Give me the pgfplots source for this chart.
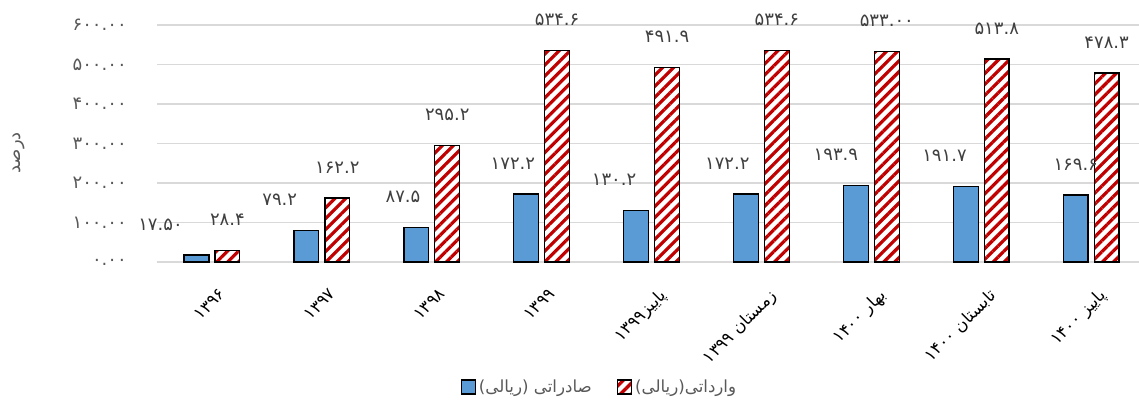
\documentclass[border=0pt]{standalone}
\usepackage{fontspec}
\usepackage{pgfplots}
\pgfplotsset{compat=1.18}
\usepackage{pgfplotstable}
\usetikzlibrary{patterns.meta}
\TeXXeTstate=1
\newfontfamily\pfont[Script=Arabic]{DejaVu Sans}
\definecolor{barblue}{HTML}{5B9BD5}
\definecolor{barred}{HTML}{C00000}
\definecolor{gridgray}{HTML}{D9D9D9}
\definecolor{txtgray}{HTML}{595959}
\definecolor{lblgray}{HTML}{404040}

\pgfplotstableread{
x exp imp expl impl dx
0 17.50 28.4 ۱۷.۵۰ ۲۸.۴ -27
1 79.2 162.2 ۷۹.۲ ۱۶۲.۲ -20
2 87.5 295.2 ۸۷.۵ ۲۹۵.۲ -10
3 172.2 534.6 ۱۷۲.۲ ۵۳۴.۶ -10
4 130.2 491.9 ۱۳۰.۲ ۴۹۱.۹ -16.5
5 172.2 534.6 ۱۷۲.۲ ۵۳۴.۶ -14
6 193.9 533.00 ۱۹۳.۹ ۵۳۳.۰۰ -15
7 191.7 513.8 ۱۹۱.۷ ۵۱۳.۸ -16
8 169.6 478.3 ۱۶۹.۶ ۴۷۸.۳ 0
}\datatable

\begin{document}
\begin{tikzpicture}
\useasboundingbox (-117.75pt,-113.25pt) rectangle (736.5pt,196.5pt);
\begin{axis}[
  at={(0,0)}, anchor=south west,
  scale only axis, width=736.5pt, height=177.75pt,
  xmin=-0.5, xmax=8.435, ymin=0, ymax=600,
  axis line style={draw=none},
  ymajorgrids, major grid style={gridgray, line width=0.9pt},
  major tick length=0pt,
  ytick={0,100,200,300,400,500,600},
  yticklabels={{۰.۰۰},{۱۰۰.۰۰},{۲۰۰.۰۰},{۳۰۰.۰۰},{۴۰۰.۰۰},{۵۰۰.۰۰},{۶۰۰.۰۰}},
  yticklabel style={font=\pfont\fontsize{13.5}{15}\selectfont, text=txtgray, inner sep=0pt, xshift=-22.5pt},
  xtick={0,1,2,3,4,5,6,7,8},
  xticklabels={
    {\beginR ۱۳۹۶\endR},
    {\beginR ۱۳۹۷\endR},
    {\beginR ۱۳۹۸\endR},
    {\beginR ۱۳۹۹\endR},
    {\beginR پاییز۱۳۹۹\endR},
    {\beginR زمستان ۱۳۹۹\endR},
    {\beginR بهار ۱۴۰۰\endR},
    {\beginR تابستان ۱۴۰۰\endR},
    {\beginR پاییز ۱۴۰۰\endR}},
  xticklabel style={font=\pfont\fontsize{12.5}{14}\selectfont, text=black, inner sep=0pt, xshift=5pt, yshift=-19pt, rotate=45, anchor=north east},
  ylabel={\beginR درصد\endR},
  ylabel style={font=\pfont\fontsize{13.5}{15}\selectfont, text=txtgray, at={(axis description cs:-0.1405,0.46)}, anchor=center},
  ybar, bar width=18.6pt,
  clip=false,
  legend style={at={(axis description cs:0.451,-0.527)}, anchor=center, legend columns=2, draw=none,
    font=\pfont\fontsize{12.5}{14}\selectfont, text=txtgray,
    /tikz/every even column/.append style={column sep=17pt}},
  legend image code/.code={\draw[#1] (0pt,-5.25pt) rectangle (10.5pt,5.25pt);},
  nodes near coords={\pgfplotspointmeta},
  point meta=explicit symbolic,
  every node near coord/.append style={font=\pfont\fontsize{13.5}{15}\selectfont, text=lblgray, anchor=center, yshift=23pt},
]
\addplot[fill=barblue, draw=black, line width=1pt, bar shift=-11.6pt,
  visualization depends on={\thisrow{dx}\as\dx},
  every node near coord/.append style={xshift=\dx}]
  table[x=x, y=exp, meta=expl]{\datatable};
\addlegendentry{\beginR صادراتی (ریالی)\endR}
\addplot[draw=black, line width=1pt, preaction={fill=white},
  pattern={Lines[angle=45,distance=5.8pt,line width=2.4pt]}, pattern color=barred, bar shift=11.6pt]
  table[x=x, y=imp, meta=impl]{\datatable};
\addlegendentry{\beginR وارداتی(ریالی)\endR}
\end{axis}
\end{tikzpicture}
\end{document}
